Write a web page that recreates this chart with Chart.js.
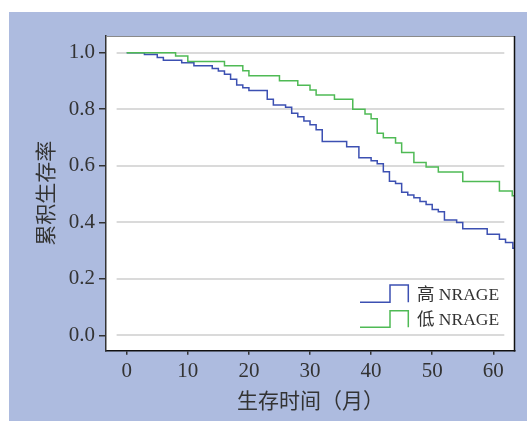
<!DOCTYPE html>
<html>
<head>
<meta charset="utf-8">
<script src="https://cdn.jsdelivr.net/npm/chart.js@4/dist/chart.umd.min.js"></script>
<style>
html,body{margin:0;padding:0;background:#fff;}
canvas{display:block;}
</style>
</head>
<body>
<canvas id="c" width="527" height="421"></canvas>
<script>
// ---- data ----
const seriesLabels = ['高 NRAGE', '低 NRAGE'];
const highTimes = [0, 2.9, 5, 6, 9, 11, 14, 15, 16, 17, 18, 19, 20, 23, 24, 26, 27, 28, 29, 30, 31, 32, 36, 38, 40, 41, 42, 43, 44, 45, 46, 47, 48, 49, 50, 51, 52, 54, 55, 59, 61, 62, 63.2, 63.55];
const highSurv  = [1.0, 0.994, 0.983, 0.973, 0.964, 0.954, 0.944, 0.935, 0.924, 0.906, 0.886, 0.876, 0.866, 0.835, 0.815, 0.807, 0.786, 0.773, 0.758, 0.745, 0.727, 0.686, 0.667, 0.628, 0.618, 0.607, 0.579, 0.545, 0.537, 0.506, 0.497, 0.487, 0.474, 0.463, 0.445, 0.437, 0.408, 0.399, 0.377, 0.358, 0.340, 0.329, 0.308, 0.308];
const lowTimes = [0, 8, 10, 16, 19, 20, 25, 28, 30, 31, 34, 37, 39, 40, 41, 42, 44, 45, 47, 49, 51, 55, 61, 63.1, 63.55];
const lowSurv  = [1.0, 0.988, 0.969, 0.954, 0.936, 0.918, 0.901, 0.885, 0.868, 0.850, 0.835, 0.800, 0.783, 0.766, 0.715, 0.699, 0.681, 0.647, 0.612, 0.596, 0.578, 0.544, 0.511, 0.494, 0.494];
const xTickValues = [0, 10, 20, 30, 40, 50, 60];
const yTickValues = [0.0, 0.2, 0.4, 0.6, 0.8, 1.0];
const xTitle = '生存时间（月）';
const yTitle = '累积生存率';

// ---- styles ----
const BLUE = '#3c50b2';
const GREEN = '#4fba55';
const BG = '#adbbdf';
const TEXT = '#333333';
const SERIF = "'Liberation Serif', 'Noto Sans CJK SC', serif";
const CJK = "'Noto Sans CJK SC', sans-serif";

const toPts = (ts, ss) => ts.map((t, i) => ({x: t, y: ss[i]}));

const decor = {
  id: 'decor',
  beforeDraw(chart) {
    const {ctx, chartArea: a} = chart;
    ctx.save();
    ctx.fillStyle = '#ffffff';
    ctx.fillRect(0, 0, chart.width, chart.height);
    ctx.fillStyle = BG;
    ctx.fillRect(9, 12, chart.width - 9, chart.height - 12);
    ctx.fillStyle = '#ffffff';
    ctx.fillRect(a.left, a.top, a.right - a.left, a.bottom - a.top);
    ctx.restore();
  },
  beforeDatasetsDraw(chart) {
    const {ctx} = chart;
    const xs = chart.scales.x, ys = chart.scales.y;
    const x0 = xs.getPixelForValue(-1.65), x1 = xs.getPixelForValue(61.8);
    ctx.save();
    ctx.strokeStyle = '#dadada';
    ctx.lineWidth = 2;
    yTickValues.forEach(v => {
      const py = Math.round(ys.getPixelForValue(v));
      ctx.beginPath();
      ctx.moveTo(x0, py);
      ctx.lineTo(x1, py);
      ctx.stroke();
    });
    ctx.restore();
  },
  afterDraw(chart) {
    const {ctx, chartArea: a} = chart;
    ctx.save();
    // top border
    ctx.strokeStyle = '#8a8a8a';
    ctx.lineWidth = 1;
    ctx.beginPath();
    ctx.moveTo(a.left, a.top + 0.5);
    ctx.lineTo(a.right, a.top + 0.5);
    ctx.stroke();
    // right border
    ctx.strokeStyle = '#111111';
    ctx.lineWidth = 1.5;
    ctx.beginPath();
    ctx.moveTo(a.right - 0.5, a.top);
    ctx.lineTo(a.right - 0.5, a.bottom + 0.75);
    ctx.stroke();
    // legend
    const rows = [
      {label: seriesLabels[0], color: BLUE, top: 285, bottom: 302.3, ty: 295},
      {label: seriesLabels[1], color: GREEN, top: 310.7, bottom: 327.3, ty: 320}
    ];
    rows.forEach(r => {
      ctx.strokeStyle = r.color;
      ctx.lineWidth = 1.5;
      ctx.beginPath();
      ctx.moveTo(360, r.bottom);
      ctx.lineTo(390, r.bottom);
      ctx.lineTo(390, r.top);
      ctx.lineTo(408.3, r.top);
      ctx.lineTo(408.3, r.bottom);
      ctx.stroke();
      ctx.fillStyle = TEXT;
      ctx.font = "17.5px " + SERIF;
      ctx.textAlign = 'left';
      ctx.textBaseline = 'middle';
      ctx.fillText(r.label, 417, r.ty);
    });
    ctx.restore();
  }
};

new Chart(document.getElementById('c'), {
  type: 'line',
  data: {
    datasets: [
      {label: seriesLabels[1], data: toPts(lowTimes, lowSurv), borderColor: GREEN, borderWidth: 1.5, stepped: true, pointRadius: 0, fill: false, tension: 0},
      {label: seriesLabels[0], data: toPts(highTimes, highSurv), borderColor: BLUE, borderWidth: 1.5, stepped: true, pointRadius: 0, fill: false, tension: 0}
    ]
  },
  options: {
    responsive: false,
    animation: false,
    devicePixelRatio: 1,
    layout: {padding: {top: 36, right: 12, left: 0, bottom: 0}},
    plugins: {legend: {display: false}, tooltip: {enabled: false}},
    scales: {
      x: {
        type: 'linear',
        min: -3.39, max: 63.55,
        afterBuildTicks: s => { s.ticks = xTickValues.map(v => ({value: v})); },
        afterFit: s => { s.height = 70.3; },
        grid: {drawOnChartArea: false, drawTicks: true, tickLength: 4, color: '#333', lineWidth: 1.5},
        border: {display: true, color: '#111', width: 1.5},
        ticks: {font: {family: SERIF, size: 21}, color: TEXT, padding: 4.4, maxRotation: 0, autoSkip: false},
        title: {display: true, text: xTitle, font: {family: CJK, size: 21}, color: TEXT, padding: {top: 0, bottom: 8.4}}
      },
      y: {
        type: 'linear',
        min: -0.054, max: 1.059,
        afterBuildTicks: s => { s.ticks = yTickValues.map(v => ({value: v})); },
        afterFit: s => { s.width = 106; },
        grid: {drawOnChartArea: false, drawTicks: true, tickLength: 7, color: '#333', lineWidth: 1.5},
        border: {display: true, color: '#333', width: 1.5},
        ticks: {font: {family: SERIF, size: 21}, color: TEXT, padding: 4, callback: v => Number(v).toFixed(1), autoSkip: false},
        title: {display: true, text: yTitle, font: {family: CJK, size: 21}, color: TEXT, padding: {top: 32.8, bottom: 0}}
      }
    }
  },
  plugins: [decor]
});
</script>
</body>
</html>
